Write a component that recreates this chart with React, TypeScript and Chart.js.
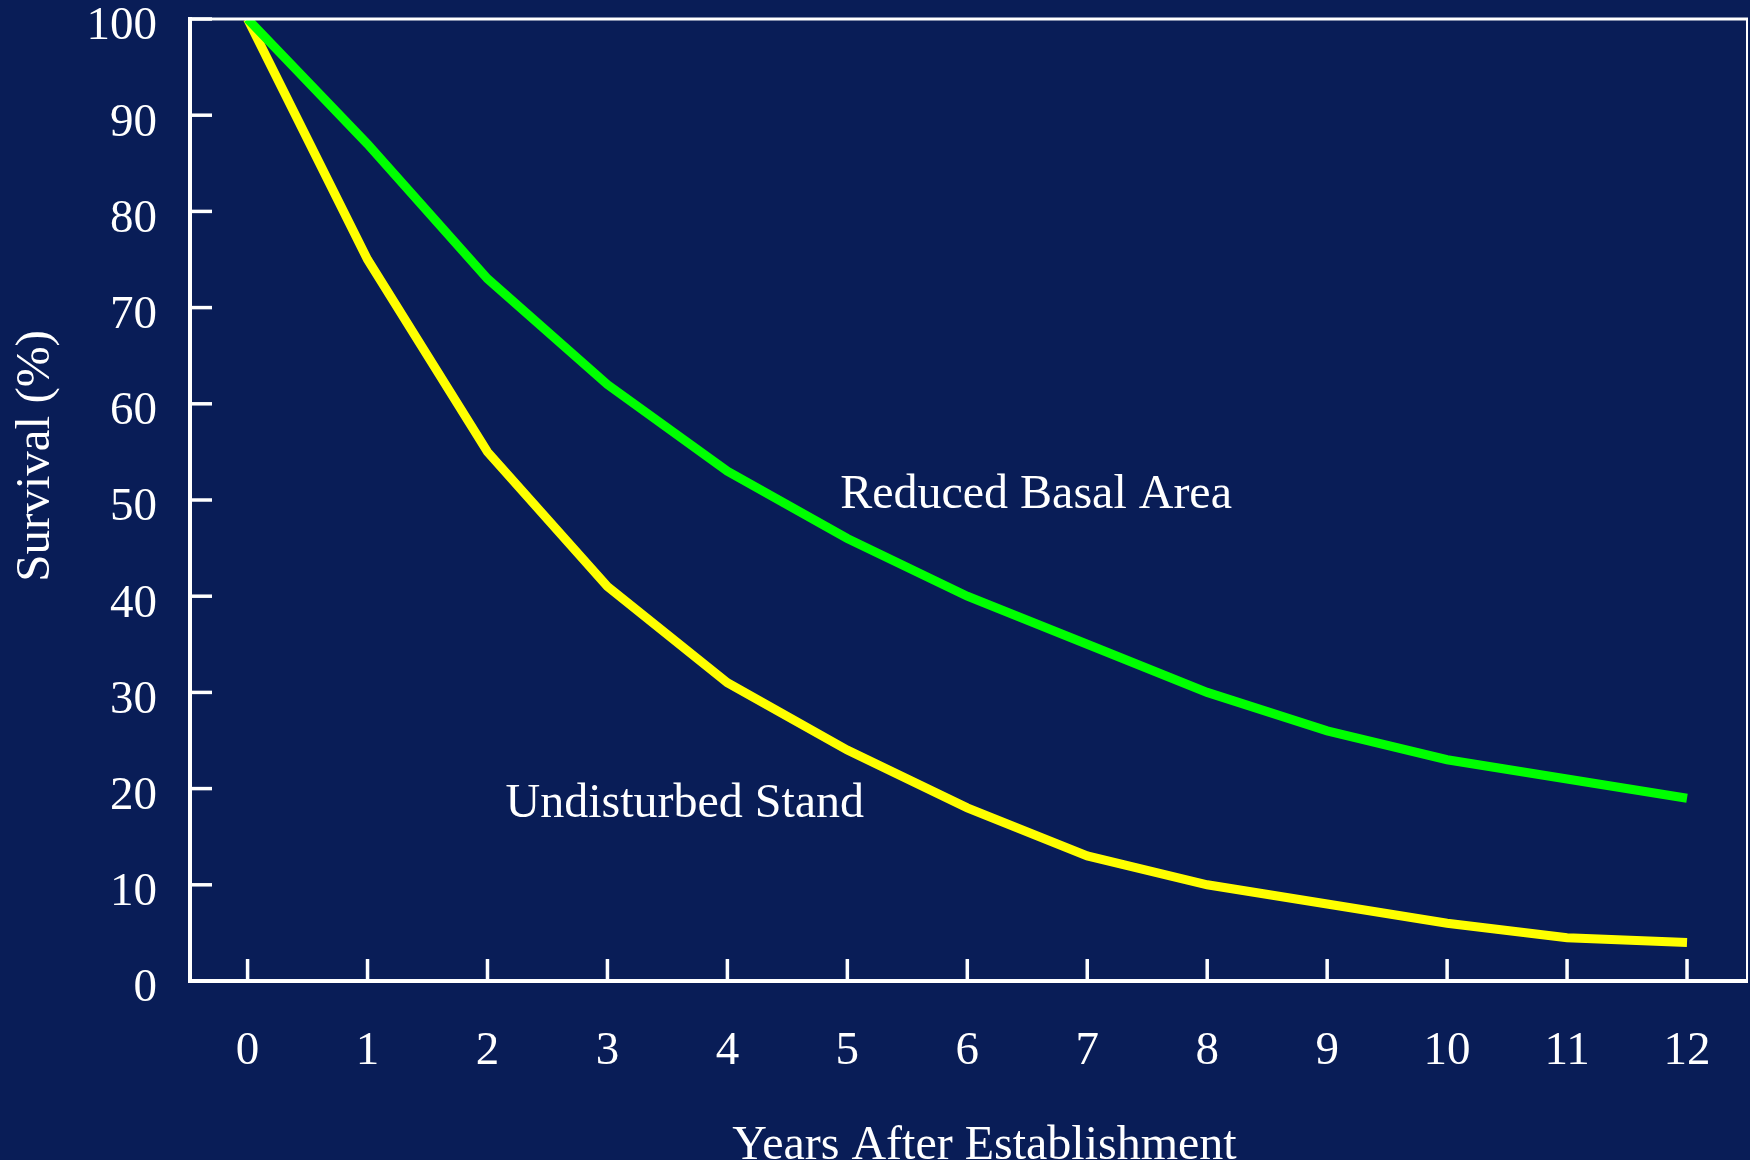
import React, { useEffect, useRef } from 'react';
import { Chart, registerables } from 'chart.js';

Chart.register(...registerables);

// ---- data ----
const years = [0, 1, 2, 3, 4, 5, 6, 7, 8, 9, 10, 11, 12];
const reducedBasalArea = [100, 87, 73, 62, 53, 46, 40, 35, 30, 26, 23, 21, 19];
const undisturbedStand = [100, 75, 55, 41, 31, 24, 18, 13, 10, 8, 6, 4.5, 4];
const yTickValues = [0, 10, 20, 30, 40, 50, 60, 70, 80, 90, 100];
const seriesLabels = ['Reduced Basal Area', 'Undisturbed Stand'];
const seriesColors = ['#00FF00', '#FFFF00'];
// in-chart label anchor points (data units: year, survival %)
const labelYears = [4.94, 2.15];
const labelValues = [50.5, 18.4];
const yAxisTitle = 'Survival (%)';
const xAxisTitle = 'Years After Establishment';

const NAVY = '#091D57';
const FONT = '"Liberation Serif", "Times New Roman", serif';

const decorPlugin = {
  id: 'decor',
  beforeDraw(chart: any) {
    const { ctx } = chart;
    ctx.save();
    ctx.fillStyle = NAVY;
    ctx.fillRect(0, 0, chart.width, chart.height);
    ctx.restore();
  },
  afterDraw(chart: any) {
    const { ctx, chartArea, scales } = chart;
    const { left, right, top, bottom } = chartArea;
    const x = scales.x;
    const y = scales.y;
    ctx.save();
    ctx.strokeStyle = '#FFFFFF';
    ctx.lineCap = 'butt';
    const line = (x1: number, y1: number, x2: number, y2: number) => {
      ctx.beginPath();
      ctx.moveTo(x1, y1);
      ctx.lineTo(x2, y2);
      ctx.stroke();
    };
    // inward tick marks
    ctx.lineWidth = 3.5;
    x.ticks.forEach((t: any) => {
      const px = x.getPixelForValue(t.value);
      line(px, bottom, px, bottom - 22);
    });
    y.ticks.forEach((t: any) => {
      const py = y.getPixelForValue(t.value);
      line(left, py, left + 22, py);
    });
    // top and right frame
    ctx.lineWidth = 3;
    line(left - 2, top, right + 1, top);
    ctx.lineWidth = 2;
    line(right, top, right, bottom + 2);

    // in-chart series labels
    ctx.fillStyle = '#FFFFFF';
    ctx.font = `48px ${FONT}`;
    ctx.textAlign = 'left';
    ctx.textBaseline = 'middle';
    seriesLabels.forEach((s, i) => {
      ctx.fillText(s, x.getPixelForValue(labelYears[i]), y.getPixelForValue(labelValues[i]));
    });

    // axis titles
    ctx.font = `48px ${FONT}`;
    ctx.textAlign = 'center';
    ctx.textBaseline = 'alphabetic';
    ctx.fillText(xAxisTitle, (left + right) / 2 + 16, chart.height - 1);

    ctx.save();
    ctx.translate(36, (top + bottom) / 2 - 44);
    ctx.rotate(-Math.PI / 2);
    ctx.font = `49px ${FONT}`;
    ctx.textAlign = 'center';
    ctx.textBaseline = 'middle';
    ctx.fillText(yAxisTitle, 0, 0);
    ctx.restore();

    ctx.restore();
  },
};

export default function App() {
  const ref = useRef<HTMLCanvasElement | null>(null);

  useEffect(() => {
    if (!ref.current) return;
    const chart = new Chart(ref.current, {
      type: 'line',
      data: {
        labels: years,
        datasets: [
          {
            label: seriesLabels[0],
            data: years.map((yr, i) => ({ x: yr, y: reducedBasalArea[i] })),
            borderColor: seriesColors[0],
            backgroundColor: seriesColors[0],
            borderWidth: 9,
            pointRadius: 0,
            tension: 0,
            fill: false,
          },
          {
            label: seriesLabels[1],
            data: years.map((yr, i) => ({ x: yr, y: undisturbedStand[i] })),
            borderColor: seriesColors[1],
            backgroundColor: seriesColors[1],
            borderWidth: 9,
            pointRadius: 0,
            tension: 0,
            fill: false,
          },
        ],
      },
      options: {
        responsive: false,
        animation: false,
        devicePixelRatio: 1,
        layout: { padding: { left: 0, top: 19, right: 3, bottom: 0 } },
        plugins: {
          legend: { display: false },
          tooltip: { enabled: false },
          title: { display: false },
        },
        scales: {
          x: {
            type: 'linear',
            min: -0.48,
            max: 12.5,
            grid: { display: false },
            border: { display: true, color: '#FFFFFF', width: 4 },
            afterBuildTicks: (scale: any) => {
              scale.ticks = years.map((v) => ({ value: v }));
            },
            afterFit: (scale: any) => {
              scale.height = 179;
              scale.paddingLeft = 0;
              scale.paddingRight = 0;
              scale.paddingTop = 0;
              scale.paddingBottom = 0;
            },
            ticks: {
              color: '#FFFFFF',
              font: { family: FONT, size: 47, lineHeight: 1.2 },
              padding: 34,
              maxRotation: 0,
              autoSkip: false,
              callback: (v: any) => String(v),
            },
          },
          y: {
            type: 'linear',
            min: 0,
            max: 100,
            grid: { display: false },
            border: { display: true, color: '#FFFFFF', width: 4 },
            afterBuildTicks: (scale: any) => {
              scale.ticks = yTickValues.map((v) => ({ value: v }));
            },
            afterFit: (scale: any) => {
              scale.width = 190;
              scale.paddingLeft = 0;
              scale.paddingRight = 0;
              scale.paddingTop = 0;
              scale.paddingBottom = 0;
            },
            ticks: {
              color: '#FFFFFF',
              font: { family: FONT, size: 47, lineHeight: 1.2 },
              padding: 25,
              labelOffset: 8,
              callback: (v: any) => String(v),
            },
          },
        },
      },
      plugins: [decorPlugin],
    });
    return () => chart.destroy();
  }, []);

  return (
    <div
      style={{
        position: 'absolute',
        left: 0,
        top: 0,
        width: 1750,
        height: 1160,
        background: NAVY,
        overflow: 'hidden',
      }}
    >
      <canvas ref={ref} width={1750} height={1160} style={{ display: 'block' }} />
    </div>
  );
}
